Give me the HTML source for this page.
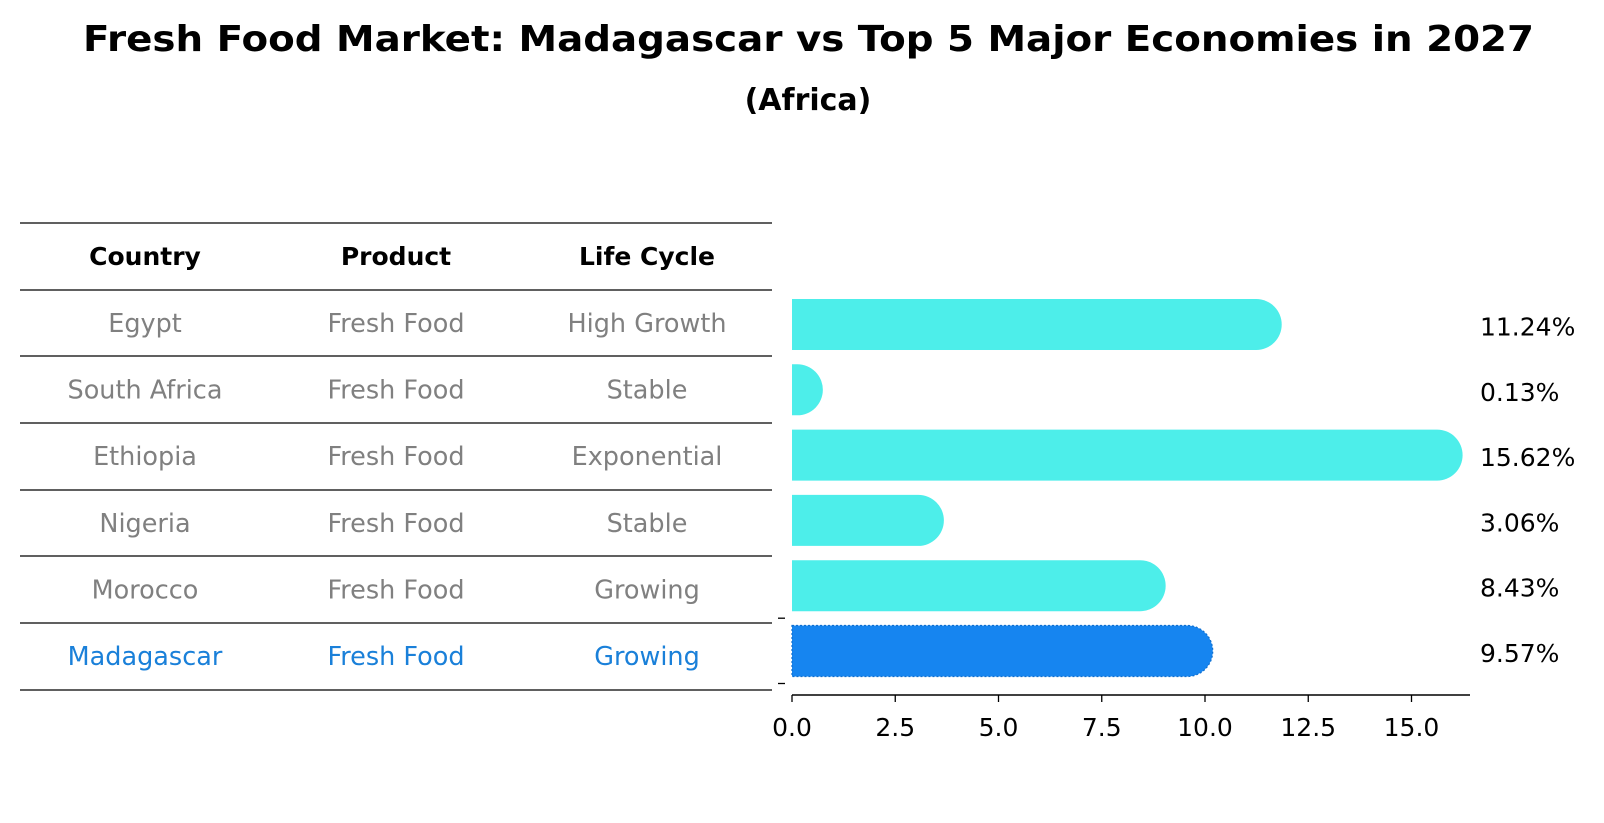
<!DOCTYPE html>
<html><head><meta charset="utf-8"><style>
html,body{margin:0;padding:0;background:#fff;}
svg{display:block;font-family:"DejaVu Sans","Liberation Sans",sans-serif;}
</style></head><body>
<svg id="chart" width="1604" height="823" viewBox="0 0 1604 823" xmlns="http://www.w3.org/2000/svg">
<text x="83" y="51" font-size="36" font-weight="bold" textLength="1451" lengthAdjust="spacingAndGlyphs">Fresh Food Market: Madagascar vs Top 5 Major Economies in 2027</text>
<text x="808" y="110" font-size="30" font-weight="bold" text-anchor="middle">(Africa)</text>
<g id="table"></g>
<g id="bars"></g>
</svg>
<script>
const countries = ["Egypt","South Africa","Ethiopia","Nigeria","Morocco","Madagascar"];
const products = ["Fresh Food","Fresh Food","Fresh Food","Fresh Food","Fresh Food","Fresh Food"];
const lifeCycles = ["High Growth","Stable","Exponential","Stable","Growing","Growing"];
const values = [11.24,0.13,15.62,3.06,8.43,9.57];
const tickValues = [0,2.5,5,7.5,10,12.5,15];
const tickLabels = ["0.0","2.5","5.0","7.5","10.0","12.5","15.0"];

const NS="http://www.w3.org/2000/svg";
function mk(tag,attrs,parent){const e=document.createElementNS(NS,tag);for(const k in attrs)e.setAttribute(k,attrs[k]);parent.appendChild(e);return e;}
const table=document.getElementById('table');
const bars=document.getElementById('bars');
// table
const lineYs=[223,290,356,423,490,556,623,690];
lineYs.forEach((y,i)=>{const l=mk('line',{x1:20,x2:772,y1:y,y2:y,stroke:'#000','stroke-width':1.3},table);

});
const colX=[145,396,647];
const headers=["Country","Product","Life Cycle"];
headers.forEach((h,j)=>{const t=mk('text',{x:colX[j],y:265,'font-size':25,'font-weight':'bold','text-anchor':'middle'},table);t.textContent=h;

});
const rowY=i=>332+i*66.6;
countries.forEach((c,i)=>{
  const col=(i===countries.length-1)?'#1a80d9':'#808080';
  [c,products[i],lifeCycles[i]].forEach((s,j)=>{
    const t=mk('text',{x:colX[j],y:rowY(i),'font-size':25.5,'text-anchor':'middle',fill:col},table);t.textContent=s;
    
    
  });
});
// bars
const x0=792, pxPer=41.3;
const xs=v=>x0+v*pxPer;
const barY=i=>324.5+i*65.3;
const bh=51;
values.forEach((v,i)=>{
  const mad=i===values.length-1;
  const col=mad?'#1685f0':'#4deeea';
  const w=xs(v)-x0;
  const r=bh/2;
  const yc=barY(i);
  let d;
  if(w<2){ d=`M${x0},${yc-r}h${Math.max(w,5)}v${bh}h${-Math.max(w,5)}z`; }
  else d=`M${x0},${yc-r}H${xs(v)}A${r},${r} 0 0 1 ${xs(v)},${yc+r}H${x0}Z`;
  const p=mk('path',{d:d,fill:col},bars);
  if(mad){p.setAttribute('stroke','#0f6fd0');p.setAttribute('stroke-dasharray','2,2');p.setAttribute('stroke-width','1.2');}
  
  
  const t=mk('text',{x:1480,y:yc+11,'font-size':25},bars);t.textContent=v.toFixed(2)+'%';
  
  
});
// y ticks
[barY(4)+32.5,barY(5)+32.5].forEach(y=>{const l=mk('line',{x1:778,x2:785,y1:y,y2:y,stroke:'#000','stroke-width':1.3},bars);

});
// x axis
const ax=mk('line',{x1:792,x2:1470,y1:695,y2:695,stroke:'#000','stroke-width':1.6},bars);


tickValues.forEach((tv,k)=>{
  const x=xs(tv);
  const l=mk('line',{x1:x,x2:x,y1:695,y2:702,stroke:'#000','stroke-width':1.3},bars);
  
  
  const t=mk('text',{x:x,y:736,'font-size':25,'text-anchor':'middle'},bars);t.textContent=tickLabels[k];
  
  
});
</script>
</body></html>
